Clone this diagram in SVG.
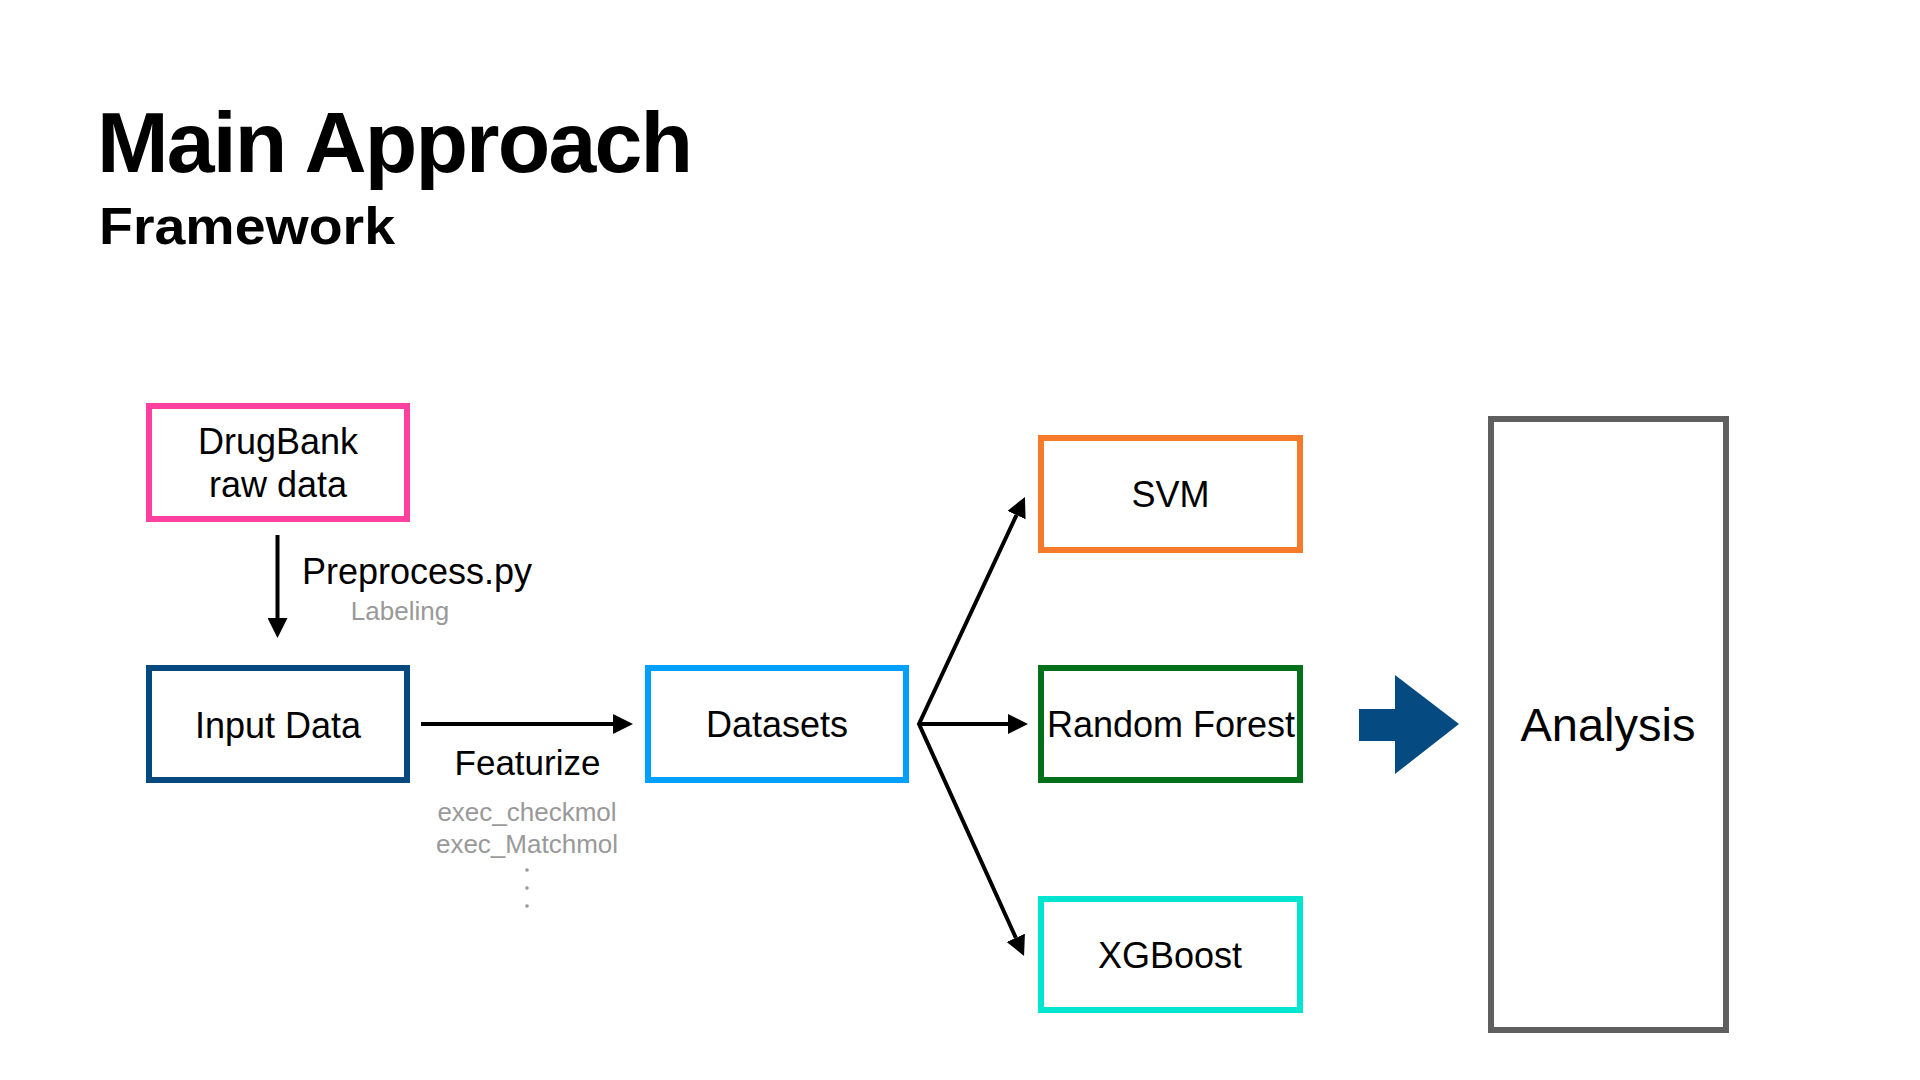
<svg xmlns="http://www.w3.org/2000/svg" width="1920" height="1080" viewBox="0 0 1920 1080">
  <style>
    text { font-family: "Liberation Sans", Arial, sans-serif; fill: #000; }
    .title { font-weight: bold; font-size: 86px; }
    .sub { font-weight: bold; font-size: 52px; }
    .lbl { font-size: 36px; text-anchor: middle; }
    .note { font-size: 26px; fill: #999999; text-anchor: middle; }
    .box { fill: #ffffff; stroke-width: 6; }
    .conn { stroke: #000; stroke-width: 4; fill: none; }
  </style>
  <defs>
    <marker id="ah" markerUnits="userSpaceOnUse" viewBox="0 0 20 20" refX="0" refY="10" markerWidth="20" markerHeight="20" orient="auto-start-reverse">
      <path d="M0,0 L20,10 L0,20 z" fill="#000"/>
    </marker>
  </defs>
  <rect width="1920" height="1080" fill="#ffffff"/>

  <g id="title">
    <text class="title" x="97" y="172" textLength="596" lengthAdjust="spacing">Main Approach</text>
    <text class="sub" x="99" y="244" textLength="296" lengthAdjust="spacingAndGlyphs">Framework</text>
  </g>

  <g id="connectors">
    <line class="conn" x1="277.5" y1="535" x2="277.5" y2="618" marker-end="url(#ah)"/>
    <line class="conn" x1="421" y1="724" x2="613" y2="724" marker-end="url(#ah)"/>
    <line class="conn" x1="919" y1="724" x2="1008" y2="724" marker-end="url(#ah)"/>
    <path class="conn" d="M1016.5,515.1 L919,724 L1015.8,937.8" stroke-linejoin="miter" marker-start="url(#ah)" marker-end="url(#ah)"/>
  </g>

  <g id="edge-labels">
    <text x="302" y="584" style="font-size:36px">Preprocess.py</text>
    <text class="note" x="400" y="620">Labeling</text>
    <text x="527.5" y="775" style="font-size:35px;text-anchor:middle">Featurize</text>
    <text class="note" x="527" y="821">exec_checkmol</text>
    <text class="note" x="527" y="853">exec_Matchmol</text>
    <circle cx="527" cy="870" r="1.8" fill="#999999"/>
    <circle cx="527" cy="888" r="1.8" fill="#999999"/>
    <circle cx="527" cy="906" r="1.8" fill="#999999"/>
  </g>

  <g id="node-drugbank">
    <rect class="box" x="149" y="406" width="258" height="113" stroke="#FF40A0"/>
    <text class="lbl" x="278" y="454">DrugBank</text>
    <text class="lbl" x="278" y="497">raw data</text>
  </g>

  <g id="node-input">
    <rect class="box" x="149" y="668" width="258" height="112" stroke="#05497F"/>
    <text class="lbl" x="278" y="738">Input Data</text>
  </g>

  <g id="node-datasets">
    <rect class="box" x="648" y="668" width="258" height="112" stroke="#02A0FA"/>
    <text class="lbl" x="777" y="737">Datasets</text>
  </g>

  <g id="node-svm">
    <rect class="box" x="1041" y="438" width="259" height="112" stroke="#F57A2A"/>
    <text class="lbl" x="1170.5" y="507">SVM</text>
  </g>

  <g id="node-rf">
    <rect class="box" x="1041" y="668" width="259" height="112" stroke="#04701A"/>
    <text class="lbl" x="1171" y="737">Random Forest</text>
  </g>

  <g id="node-xgb">
    <rect class="box" x="1041" y="899" width="259" height="111" stroke="#00E5CF"/>
    <text class="lbl" x="1170" y="968">XGBoost</text>
  </g>

  <g id="big-arrow">
    <polygon points="1359,709 1395,709 1395,675 1459,724 1395,774 1395,741 1359,741" fill="#054A80"/>
  </g>

  <g id="node-analysis">
    <rect class="box" x="1491" y="419" width="235" height="611" stroke="#5F5F5F"/>
    <text class="lbl" x="1608" y="741" style="font-size:47px">Analysis</text>
  </g>
</svg>
